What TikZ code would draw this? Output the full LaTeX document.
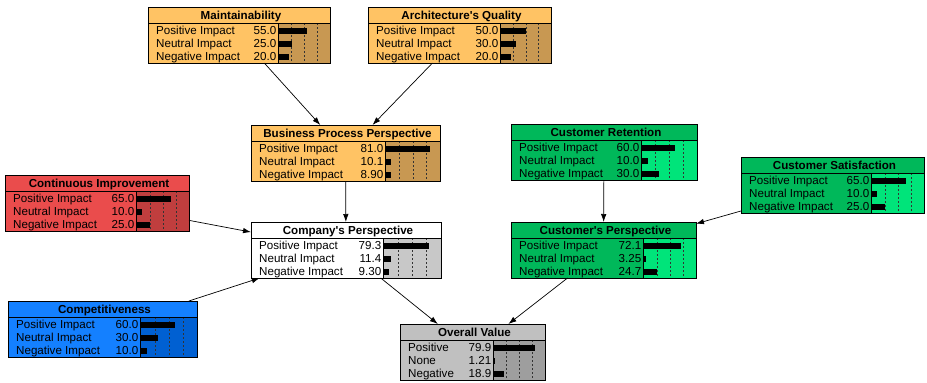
\documentclass[tikz,border=0pt]{standalone}
\usepackage{fontspec}
\setmainfont{Liberation Sans}
\usetikzlibrary{arrows.meta}
\definecolor{ora}{RGB}{255,195,100}
\definecolor{orb}{RGB}{200,152,82}
\definecolor{reda}{RGB}{234,76,76}
\definecolor{redb}{RGB}{192,62,62}
\definecolor{grna}{RGB}{0,184,90}
\definecolor{grnb}{RGB}{0,228,122}
\definecolor{blua}{RGB}{20,128,255}
\definecolor{blub}{RGB}{0,96,210}
\definecolor{whta}{RGB}{255,255,255}
\definecolor{whtb}{RGB}{200,200,200}
\definecolor{grya}{RGB}{192,192,192}
\definecolor{gryb}{RGB}{158,158,158}
\tikzset{
 bnbox/.style={rectangle, draw=black, line width=0.8pt, inner sep=0pt, outer sep=0pt, anchor=north west},
 bntext/.style={inner sep=0pt, text height=8.3pt, text depth=0pt, font=\fontsize{11.6}{13}\selectfont},
 bnlabel/.style={bntext, anchor=west},
 bnvalue/.style={bntext, anchor=east},
 bntitle/.style={bntext, font=\fontsize{11.6}{13}\selectfont\bfseries},
 bndash/.style={line width=0.6pt, dash pattern=on 2pt off 2pt, black!80},
 bnline/.style={line width=0.8pt, black},
 bnbar/.style={fill=black},
 bnarrow/.style={line width=0.7pt, -{Latex[length=8pt,width=5.5pt]}},
}
\newcommand{\bnnode}[7]{%
 \def\bnN{#1}\def\bnL{#2}\def\bnT{#3}\def\bnW{#4}\def\bnO{#5}%
 \node[bnbox, fill=#6a, minimum width=#4pt, minimum height=56pt] (#1) at (#2,#3) {};
 \fill[#6b] (#2+#5,#3+16) rectangle (#2+#4,#3+56);
 \foreach \bnq in {0.25,0.5,0.75} \draw[bndash] ({#2+#5+1+\bnq*(#4-#5-1)},#3+16) -- ({#2+#5+1+\bnq*(#4-#5-1)},#3+56);
 \draw[bnline] (#2,#3+16) -- (#2+#4,#3+16);
 \draw[bnline] (#2+#5,#3+16) -- (#2+#5,#3+56);
 \draw[bnline] (#1.north west) rectangle (#1.south east);
 \node[bntitle] (#1-t) at (#2+#4/2+2,#3+8) {#7};
}
\newcommand{\bnrow}[4]{%
 \node[bnlabel] (\bnN-l#1) at (\bnL+8,\bnT+10.5+13*#1) {#2};
 \node[bnvalue] (\bnN-v#1) at (\bnL+\bnO-1.5,\bnT+10.5+13*#1) {#3};
 \fill[bnbar] (\bnL+\bnO+1,\bnT+7.5+13*#1) rectangle ++({#4/100*(\bnW-\bnO-1)},6);
}
\begin{document}
\begin{tikzpicture}[x=1pt,y=-1pt]
\useasboundingbox (0,0) rectangle (927,383);
\bnnode{maint}{148}{7}{182}{130}{or}{Maintainability}
\bnrow{1}{Positive Impact}{55.0}{55}
\bnrow{2}{Neutral Impact}{25.0}{25}
\bnrow{3}{Negative Impact}{20.0}{20}
\bnnode{arch}{368}{7}{183}{132}{or}{Architecture\textquotesingle s Quality}
\bnrow{1}{Positive Impact}{50.0}{50}
\bnrow{2}{Neutral Impact}{30.0}{30}
\bnrow{3}{Negative Impact}{20.0}{20}
\bnnode{bpp}{251}{125}{189}{134}{or}{Business Process Perspective}
\bnrow{1}{Positive Impact}{81.0}{81}
\bnrow{2}{Neutral Impact}{10.1}{10.1}
\bnrow{3}{Negative Impact}{8.90}{8.9}
\bnnode{ret}{511}{124}{186}{130}{grn}{Customer Retention}
\bnrow{1}{Positive Impact}{60.0}{60}
\bnrow{2}{Neutral Impact}{10.0}{10}
\bnrow{3}{Negative Impact}{30.0}{30}
\bnnode{ci}{5}{175}{184}{131}{red}{Continuous Improvement}
\bnrow{1}{Positive Impact}{65.0}{65}
\bnrow{2}{Neutral Impact}{10.0}{10}
\bnrow{3}{Negative Impact}{25.0}{25}
\bnnode{sat}{741}{157}{183}{130}{grn}{Customer Satisfaction}
\bnrow{1}{Positive Impact}{65.0}{65}
\bnrow{2}{Neutral Impact}{10.0}{10}
\bnrow{3}{Negative Impact}{25.0}{25}
\bnnode{comp}{251}{222}{190}{132}{wht}{Company\textquotesingle s Perspective}
\bnrow{1}{Positive Impact}{79.3}{79.3}
\bnrow{2}{Neutral Impact}{11.4}{11.4}
\bnrow{3}{Negative Impact}{9.30}{9.3}
\bnnode{cust}{511}{222}{185}{132}{grn}{Customer\textquotesingle s Perspective}
\bnrow{1}{Positive Impact}{72.1}{72.1}
\bnrow{2}{Neutral Impact}{3.25}{3.25}
\bnrow{3}{Negative Impact}{24.7}{24.7}
\bnnode{cmpt}{8}{301}{189}{132}{blu}{Competitiveness}
\bnrow{1}{Positive Impact}{60.0}{60}
\bnrow{2}{Neutral Impact}{30.0}{30}
\bnrow{3}{Negative Impact}{10.0}{10}
\bnnode{ov}{400}{324}{145}{93}{gry}{Overall Value}
\bnrow{1}{Positive}{79.9}{79.9}
\bnrow{2}{None}{1.21}{1.21}
\bnrow{3}{Negative}{18.9}{18.9}
\draw[bnarrow] (maint) -- (bpp);
\draw[bnarrow] (arch) -- (bpp);
\draw[bnarrow] (bpp) -- (comp);
\draw[bnarrow] (ci) -- (comp);
\draw[bnarrow] (cmpt) -- (comp);
\draw[bnarrow] (ret) -- (cust);
\draw[bnarrow] (sat) -- (cust);
\draw[bnarrow] (comp) -- (ov);
\draw[bnarrow] (cust) -- (ov);
\end{tikzpicture}
\end{document}
